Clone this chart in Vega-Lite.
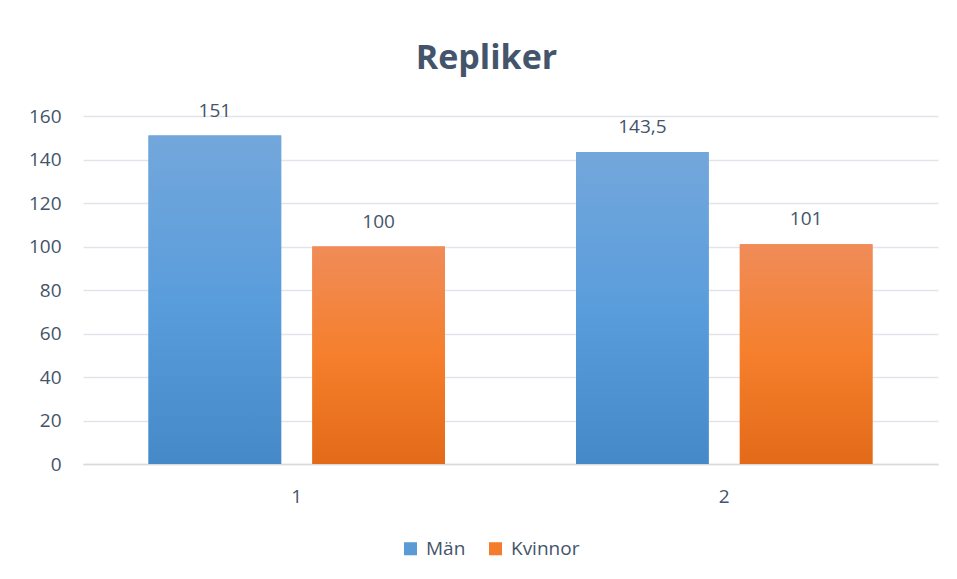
{
  "$schema": "https://vega.github.io/schema/vega-lite/v6.json",
  "width": 855,
  "height": 348,
  "autosize": {"type": "none"},
  "padding": {"left": 83, "top": 116, "right": 19, "bottom": 115},
  "background": "white",
  "title": {
    "text": "Repliker",
    "font": "Open Sans",
    "fontSize": 34,
    "fontWeight": "bold",
    "color": "#44546A",
    "anchor": "middle",
    "dx": -24,
    "offset": 26
  },
  "data": {
    "values": [
      {"grupp": "1", "kon": "Män", "varde": 151, "label": "151"},
      {"grupp": "1", "kon": "Kvinnor", "varde": 100, "label": "100"},
      {"grupp": "2", "kon": "Män", "varde": 143.5, "label": "143,5"},
      {"grupp": "2", "kon": "Kvinnor", "varde": 101, "label": "101"}
    ]
  },
  "encoding": {
    "x": {
      "field": "grupp", "type": "nominal",
      "scale": {"paddingInner": 0, "paddingOuter": 0},
      "axis": {
        "title": null, "labelAngle": 0, "ticks": false, "domain": true,
        "domainColor": "#D9D9D9", "domainWidth": 1.5, "labelPadding": 23,
        "labelFont": "Open Sans", "labelFontSize": 19, "labelColor": "#44546A", "grid": false
      }
    },
    "xOffset": {
      "field": "kon", "type": "nominal", "sort": ["Män", "Kvinnor"],
      "scale": {"paddingInner": 0.19, "paddingOuter": 0.4}
    },
    "y": {
      "field": "varde", "type": "quantitative",
      "scale": {"domain": [0, 160], "nice": false},
      "axis": {
        "title": null, "values": [0, 20, 40, 60, 80, 100, 120, 140, 160],
        "domain": false, "ticks": false, "labelPadding": 22,
        "labelFont": "Open Sans", "labelFontSize": 19, "labelColor": "#44546A",
        "gridColor": "#E1E5EB", "gridWidth": 1.5
      }
    }
  },
  "layer": [
    {
      "mark": {"type": "bar"},
      "encoding": {
        "color": {
          "field": "kon", "type": "nominal",
          "sort": ["Män", "Kvinnor"],
          "scale": {"domain": ["Män", "Kvinnor"], "range": ["#5B9BD5", "#F47C2C"]},
          "legend": {
            "title": null, "orient": "none", "legendX": 318, "legendY": 423,
            "direction": "horizontal",
            "symbolType": "square", "symbolSize": 170, "symbolStrokeWidth": 0,
            "labelFont": "Open Sans", "labelFontSize": 19, "labelColor": "#44546A",
            "columnPadding": 20, "labelOffset": 6
          }
        }
      }
    },
    {
      "transform": [{"filter": "datum.kon === 'Män'"}],
      "mark": {
        "type": "bar",
        "fill": {
          "gradient": "linear", "x1": 0, "y1": 0, "x2": 0, "y2": 1,
          "stops": [
            {"offset": 0, "color": "#73A7DB"},
            {"offset": 0.5, "color": "#5A9DDC"},
            {"offset": 1, "color": "#4589C8"}
          ]
        }
      }
    },
    {
      "transform": [{"filter": "datum.kon === 'Kvinnor'"}],
      "mark": {
        "type": "bar",
        "fill": {
          "gradient": "linear", "x1": 0, "y1": 0, "x2": 0, "y2": 1,
          "stops": [
            {"offset": 0, "color": "#F08C59"},
            {"offset": 0.5, "color": "#F57F2C"},
            {"offset": 1, "color": "#E36A18"}
          ]
        }
      }
    },
    {
      "mark": {
        "type": "text", "baseline": "bottom", "dy": -15,
        "font": "Open Sans", "fontSize": 19, "color": "#44546A"
      },
      "encoding": {"text": {"field": "label"}}
    }
  ],
  "config": {"view": {"stroke": null}}
}
